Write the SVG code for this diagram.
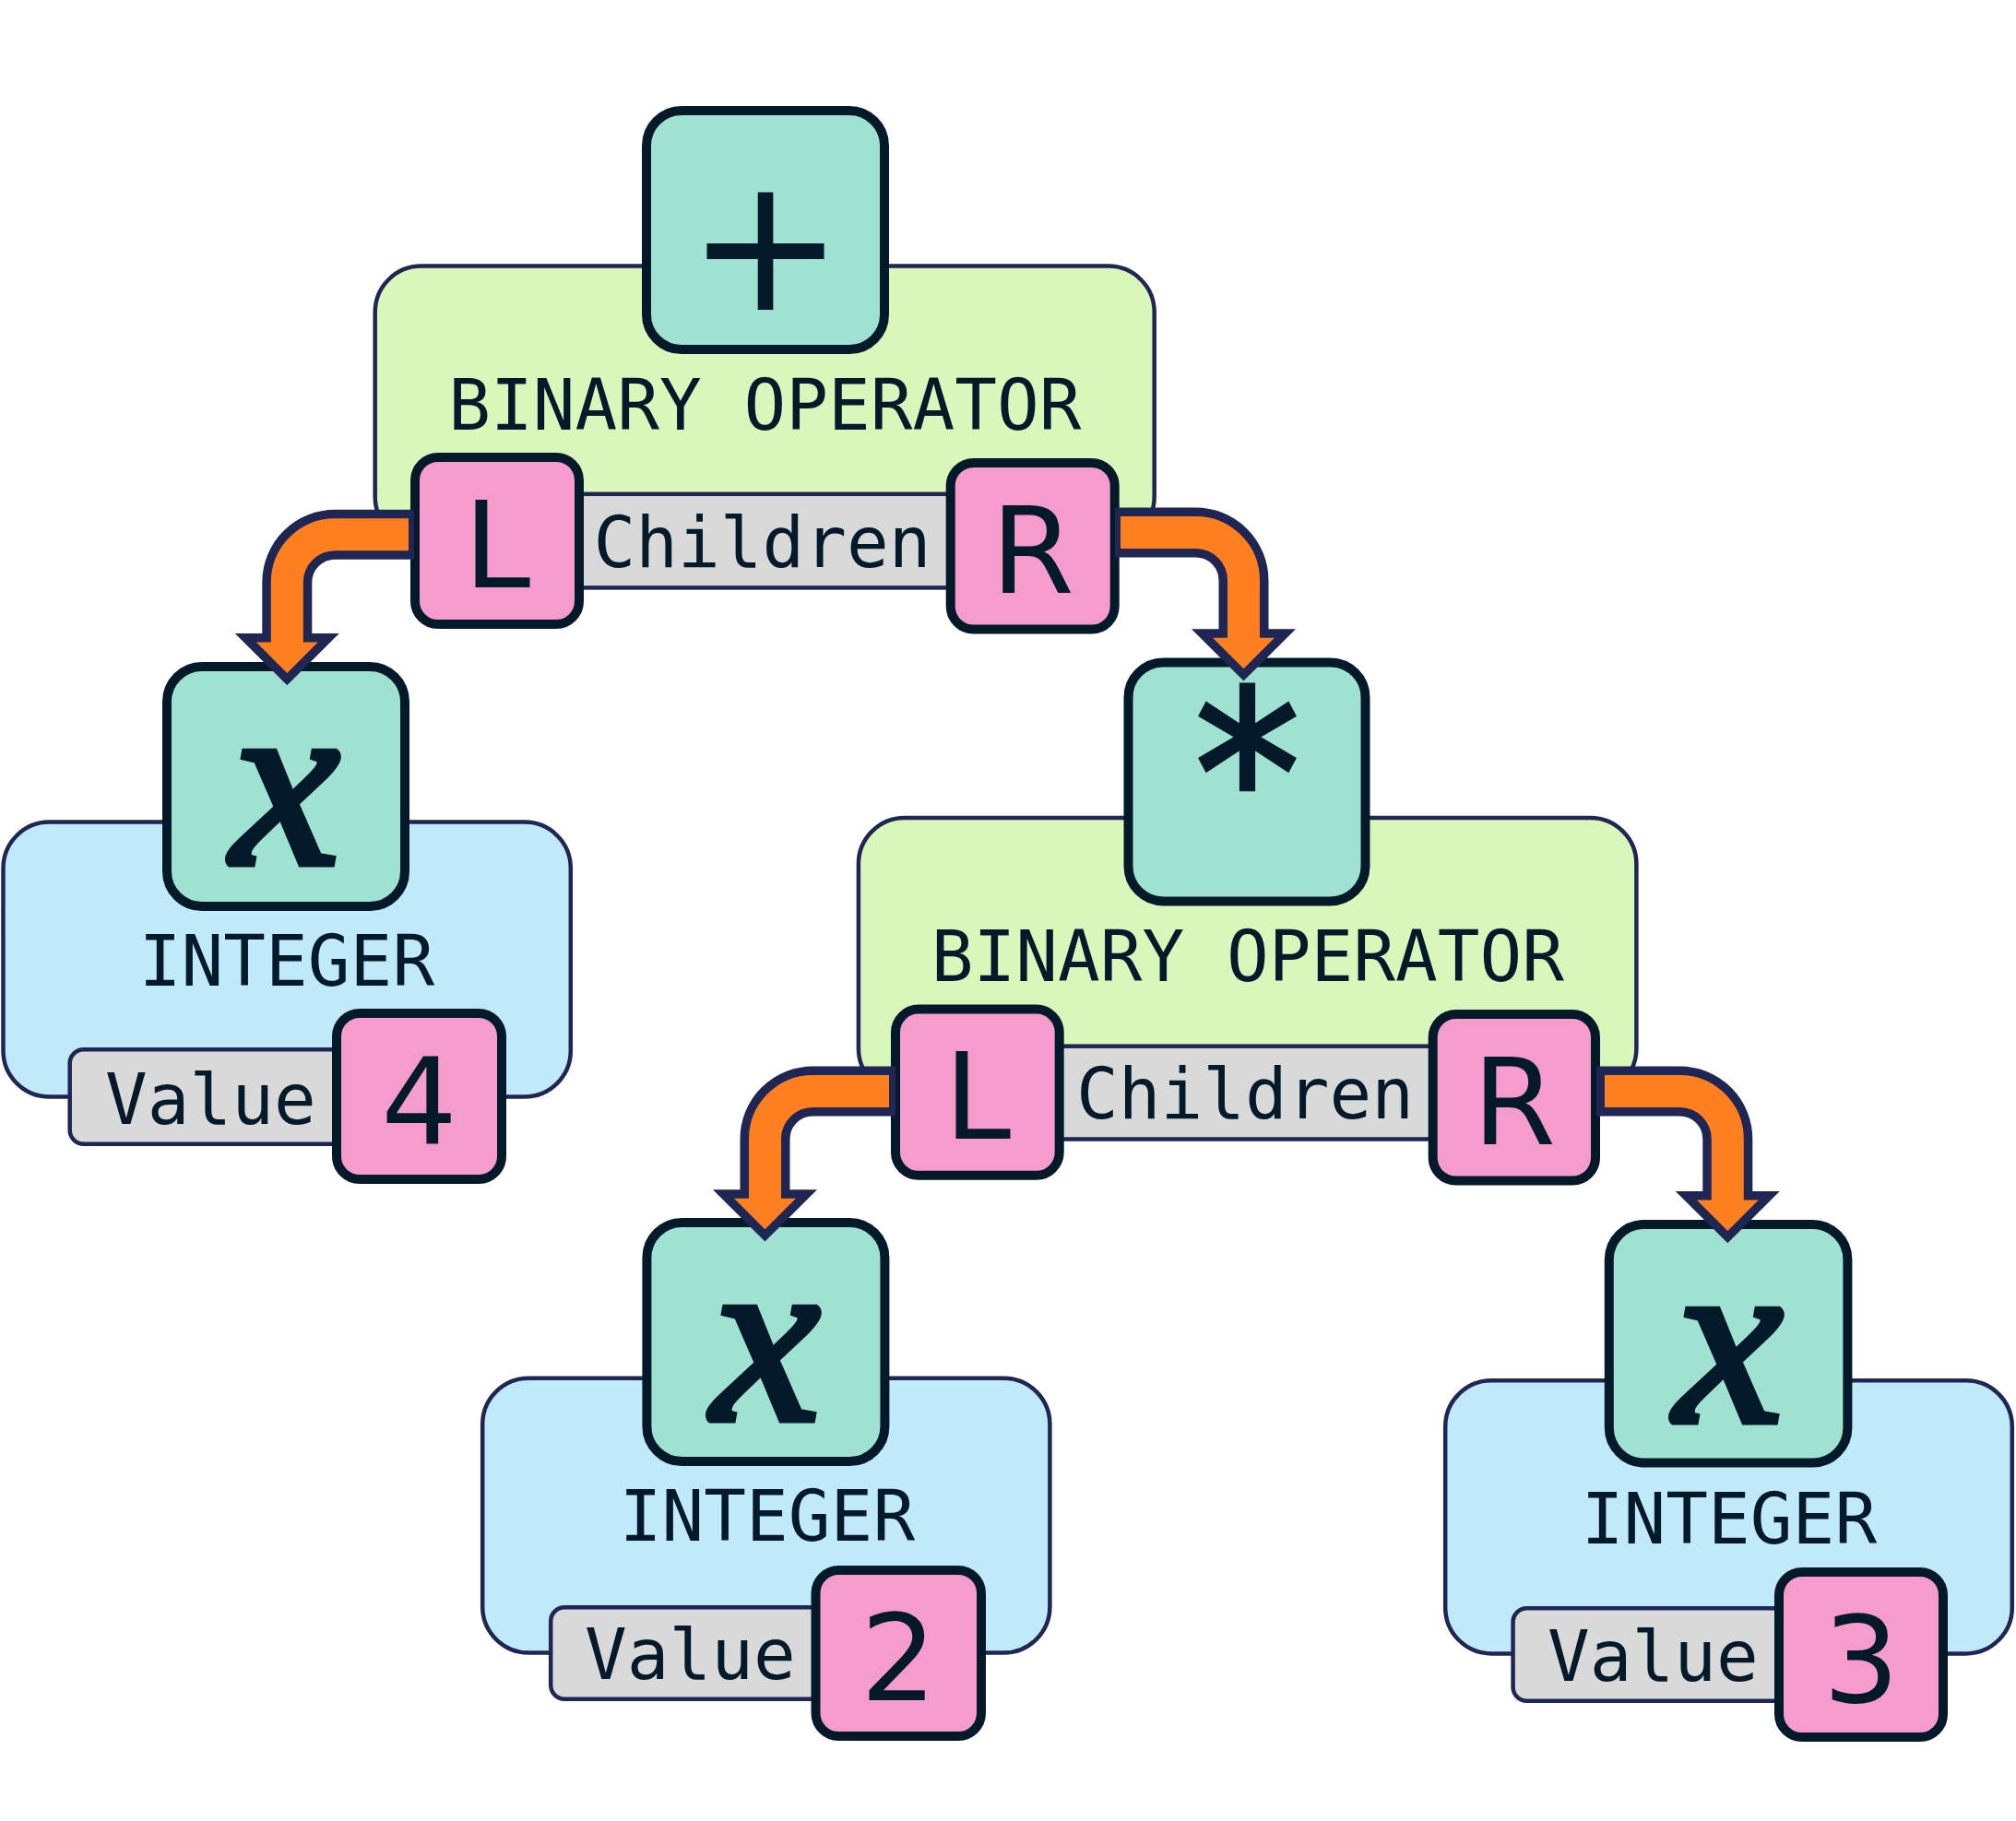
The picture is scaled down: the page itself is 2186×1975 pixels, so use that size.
<svg xmlns="http://www.w3.org/2000/svg" width="2186" height="1975" viewBox="0 0 2186 1975">
<style>
.bg{fill:#ffffff}
.green{fill:#daf7bb;stroke:#1f2654;stroke-width:4.5}
.blue{fill:#c0eaf9;stroke:#1f2654;stroke-width:4.5}
.teal{fill:#a0e2d1;stroke:#04192a;stroke-width:10}
.pink{fill:#f59ccd;stroke:#04192a;stroke-width:10}
.bar{fill:#d9d9d9;stroke:#1f2654;stroke-width:4.5}
.lbl{font-family:"DejaVu Sans Mono","Liberation Mono",monospace;font-size:76px;fill:#04192a}
.big{font-family:"DejaVu Sans","Liberation Sans",sans-serif;font-size:130px;fill:#04192a;text-anchor:middle}
.sym{font-family:"DejaVu Sans","Liberation Sans",sans-serif;fill:#04192a;text-anchor:middle}
.ast{font-family:"DejaVu Sans Mono","Liberation Mono",monospace;fill:#04192a;stroke:#04192a;stroke-width:5;stroke-linejoin:miter;text-anchor:middle}
.var{font-family:"Liberation Serif","DejaVu Serif",serif;font-style:italic;font-size:265px;fill:#04192a;stroke:#04192a;stroke-width:7;text-anchor:middle}
.mid{text-anchor:middle}
.navy{fill:none;stroke:#1f2654;stroke-width:54}
.orange{fill:none;stroke:#fd7f20;stroke-width:35}
.ahO{fill:#1f2654}
.ahI{fill:#fd7f20}
</style>
<rect class="bg" x="0" y="0" width="2186" height="1975"/>

<g id="node-plus">
  <rect class="green" x="406.7" y="288.6" width="845" height="300" rx="50"/>
  <rect class="teal" x="701" y="120" width="258" height="259" rx="38"/>
  <text class="sym" x="830" y="335.5" font-size="203">+</text>
  <text class="lbl mid" x="829.3" y="465.5">BINARY OPERATOR</text>
  <rect class="bar" x="540" y="535.8" width="580" height="101.6"/>
  <text class="lbl mid" x="826.5" y="614.7">Children</text>
  <rect class="pink" x="450" y="496" width="178" height="181" rx="25"/>
  <text class="big" x="539" y="636.5">L</text>
  <rect class="pink" x="1030.7" y="502" width="178" height="180.5" rx="25"/>
  <text class="big" x="1119.7" y="642.7">R</text>
</g>

<g id="node-int4">
  <rect class="blue" x="3.5" y="891.6" width="615.3" height="298" rx="50"/>
  <rect class="teal" x="181" y="723" width="258" height="260" rx="38"/>
  <text class="var" x="309.5" y="937">x</text>
  <text class="lbl mid" x="311" y="1068.5">INTEGER</text>
  <rect class="bar" x="75.7" y="1138.2" width="360" height="102.6" rx="15"/>
  <text class="lbl" x="114" y="1218.6">Value</text>
  <rect class="pink" x="365" y="1099" width="179" height="180" rx="25"/>
  <text class="big" x="454.5" y="1240.4">4</text>
</g>

<g id="node-times">
  <rect class="green" x="930.9" y="887" width="843.5" height="300" rx="50"/>
  <rect class="teal" x="1223.5" y="718.4" width="257" height="259" rx="38"/>
  <text class="ast" x="0" y="125" font-size="262" transform="translate(1352.5,808.7) scale(0.875,0.95)">*</text>
  <text class="lbl mid" x="1352.9" y="1063.6">BINARY OPERATOR</text>
  <rect class="bar" x="1060" y="1134.7" width="580" height="100.8"/>
  <text class="lbl mid" x="1350" y="1212.8">Children</text>
  <rect class="pink" x="971" y="1094.6" width="177.7" height="180.2" rx="25"/>
  <text class="big" x="1060" y="1235.1">L</text>
  <rect class="pink" x="1553.7" y="1100" width="176.3" height="180.5" rx="25"/>
  <text class="big" x="1641.9" y="1240.7">R</text>
</g>

<g id="node-int2">
  <rect class="blue" x="523.2" y="1494.7" width="615.2" height="297.9" rx="50"/>
  <rect class="teal" x="701.4" y="1326" width="258" height="259" rx="38"/>
  <text class="var" x="830.5" y="1540">x</text>
  <text class="lbl mid" x="832" y="1671">INTEGER</text>
  <rect class="bar" x="597.2" y="1743.2" width="360" height="99.6" rx="15"/>
  <text class="lbl" x="634" y="1820.5">Value</text>
  <rect class="pink" x="884.5" y="1703" width="179.5" height="180" rx="25"/>
  <text class="big" x="974.3" y="1843.5">2</text>
</g>

<g id="node-int3">
  <rect class="blue" x="1567.2" y="1497.2" width="614.6" height="296.2" rx="50"/>
  <rect class="teal" x="1744.8" y="1328" width="258.6" height="258.6" rx="38"/>
  <text class="var" x="1874.5" y="1542">x</text>
  <text class="lbl mid" x="1875" y="1674">INTEGER</text>
  <rect class="bar" x="1640.6" y="1744.2" width="360" height="100.6" rx="15"/>
  <text class="lbl" x="1678" y="1823">Value</text>
  <rect class="pink" x="1929" y="1705" width="178" height="179" rx="25"/>
  <text class="big" x="2018" y="1845.5">3</text>
</g>

<g id="connectors">
  <path class="navy" d="M449,579.7 H363.3 A52,52 0 0 0 311.3,631.7 V693.3"/>
  <polygon class="ahO" points="254.8,687 367.8,687 311.3,743.3"/>
  <path class="orange" d="M443,579.7 H363.3 A52,52 0 0 0 311.3,631.7 V703.3"/>
  <polygon class="ahI" points="277.8,696.5 344.8,696.5 311.3,730"/>
  <path class="navy" d="M1209,577.5 H1296.5 A52,52 0 0 1 1348.5,629.5 V688.5"/>
  <polygon class="ahO" points="1292,682.2 1405,682.2 1348.5,738.5"/>
  <path class="orange" d="M1215,577.5 H1296.5 A52,52 0 0 1 1348.5,629.5 V698.5"/>
  <polygon class="ahI" points="1315,691.7 1382,691.7 1348.5,725.2"/>
  <path class="navy" d="M971,1183.4 H881.5 A52,52 0 0 0 829.5,1235.4 V1296.5"/>
  <polygon class="ahO" points="773,1290.2 886,1290.2 829.5,1346.5"/>
  <path class="orange" d="M964,1183.4 H881.5 A52,52 0 0 0 829.5,1235.4 V1306.5"/>
  <polygon class="ahI" points="796,1299.7 863,1299.7 829.5,1333.2"/>
  <path class="navy" d="M1731,1183.4 H1821.3 A52,52 0 0 1 1873.3,1235.4 V1298.3"/>
  <polygon class="ahO" points="1816.8,1292 1929.8,1292 1873.3,1348.3"/>
  <path class="orange" d="M1740,1183.4 H1821.3 A52,52 0 0 1 1873.3,1235.4 V1308.3"/>
  <polygon class="ahI" points="1839.8,1301.5 1906.8,1301.5 1873.3,1335"/>
</g>
</svg>
